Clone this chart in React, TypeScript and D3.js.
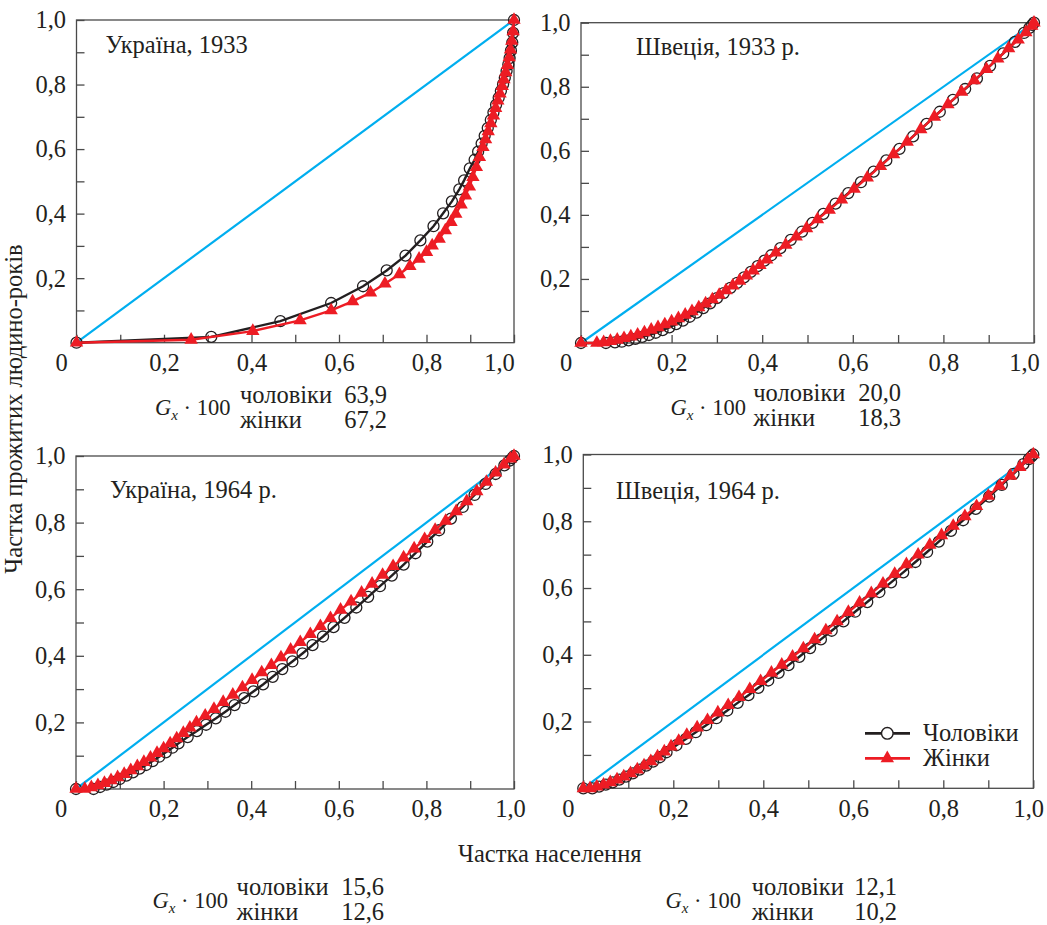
import React, { useRef, useEffect } from "react";
import * as d3 from "d3";

// Lorenz-type curves: [share of population, share of person-years lived]
const ua1933Men = [
  [0, 0], [0.308, 0.018], [0.466, 0.067], [0.582, 0.123], [0.655, 0.175], [0.709, 0.224],
  [0.752, 0.27], [0.786, 0.317], [0.816, 0.361], [0.838, 0.401], [0.858, 0.438], [0.875, 0.475],
  [0.886, 0.503], [0.899, 0.54], [0.91, 0.567], [0.918, 0.592], [0.926, 0.617], [0.933, 0.641],
  [0.94, 0.665], [0.947, 0.69], [0.953, 0.713], [0.959, 0.737], [0.965, 0.759], [0.97, 0.78],
  [0.975, 0.801], [0.979, 0.821], [0.983, 0.842], [0.987, 0.862], [0.99, 0.882], [0.993, 0.905],
  [0.996, 0.93], [0.998, 0.96], [1, 1],
];
const ua1933Women = [
  [0, 0], [0.262, 0.009], [0.403, 0.036], [0.511, 0.069], [0.582, 0.1], [0.631, 0.128],
  [0.672, 0.155], [0.705, 0.183], [0.738, 0.212], [0.762, 0.237], [0.783, 0.26], [0.8, 0.281],
  [0.813, 0.301], [0.829, 0.322], [0.843, 0.348], [0.856, 0.374], [0.867, 0.399], [0.879, 0.428],
  [0.889, 0.456], [0.898, 0.484], [0.906, 0.513], [0.914, 0.544], [0.921, 0.575], [0.929, 0.606],
  [0.935, 0.63], [0.941, 0.655], [0.947, 0.68], [0.953, 0.704], [0.958, 0.727], [0.963, 0.75],
  [0.968, 0.772], [0.973, 0.795], [0.977, 0.816], [0.981, 0.838], [0.985, 0.86], [0.989, 0.884],
  [0.992, 0.908], [0.995, 0.935], [0.998, 0.965], [1, 1],
];
const se1933Men = [
  [0, 0], [0.055, 0], [0.075, 0.002], [0.09, 0.004], [0.105, 0.008], [0.12, 0.013], [0.135, 0.019],
  [0.15, 0.025], [0.165, 0.032], [0.18, 0.04], [0.195, 0.049], [0.21, 0.059], [0.225, 0.07],
  [0.24, 0.082], [0.255, 0.095], [0.27, 0.109], [0.285, 0.124], [0.3, 0.14], [0.315, 0.156],
  [0.33, 0.172], [0.345, 0.188], [0.36, 0.205], [0.375, 0.222], [0.39, 0.24], [0.405, 0.257],
  [0.42, 0.274], [0.44, 0.296], [0.463, 0.322], [0.488, 0.348], [0.511, 0.375], [0.535, 0.403],
  [0.562, 0.435], [0.59, 0.468], [0.618, 0.502], [0.646, 0.535], [0.674, 0.57], [0.703, 0.606],
  [0.733, 0.645], [0.763, 0.684], [0.792, 0.722], [0.821, 0.759], [0.848, 0.793], [0.874, 0.826],
  [0.903, 0.865], [0.932, 0.904], [0.958, 0.94], [0.978, 0.968], [0.99, 0.984], [0.996, 0.993], [1, 1],
];
const se1933Women = [
  [0, 0], [0.035, 0], [0.05, 0.002], [0.065, 0.006], [0.08, 0.01], [0.095, 0.015], [0.11, 0.02],
  [0.125, 0.026], [0.14, 0.033], [0.155, 0.041], [0.17, 0.049], [0.185, 0.058], [0.2, 0.067],
  [0.215, 0.077], [0.23, 0.088], [0.245, 0.099], [0.26, 0.111], [0.275, 0.123], [0.29, 0.136],
  [0.305, 0.15], [0.32, 0.164], [0.335, 0.179], [0.35, 0.194], [0.365, 0.21], [0.38, 0.226],
  [0.395, 0.243], [0.41, 0.26], [0.43, 0.282], [0.452, 0.306], [0.475, 0.332], [0.498, 0.358],
  [0.522, 0.386], [0.548, 0.416], [0.575, 0.448], [0.603, 0.481], [0.632, 0.516], [0.661, 0.552],
  [0.69, 0.589], [0.72, 0.628], [0.75, 0.667], [0.78, 0.706], [0.81, 0.745], [0.84, 0.784],
  [0.868, 0.82], [0.895, 0.855], [0.92, 0.888], [0.944, 0.92], [0.965, 0.947], [0.982, 0.97],
  [0.995, 0.99], [1, 1],
];
const ua1964Men = [
  [0, 0], [0.04, 0], [0.055, 0.006], [0.07, 0.013], [0.085, 0.021], [0.1, 0.03], [0.115, 0.04],
  [0.13, 0.05], [0.145, 0.061], [0.16, 0.072], [0.175, 0.084], [0.19, 0.097], [0.205, 0.11],
  [0.22, 0.124], [0.234, 0.137], [0.255, 0.156], [0.276, 0.174], [0.297, 0.193], [0.319, 0.212],
  [0.341, 0.232], [0.362, 0.252], [0.384, 0.273], [0.405, 0.293], [0.427, 0.314], [0.449, 0.337],
  [0.471, 0.36], [0.494, 0.383], [0.517, 0.407], [0.54, 0.432], [0.564, 0.458], [0.588, 0.486],
  [0.613, 0.514], [0.64, 0.545], [0.667, 0.577], [0.694, 0.609], [0.721, 0.641], [0.748, 0.674],
  [0.775, 0.708], [0.802, 0.743], [0.829, 0.777], [0.856, 0.812], [0.883, 0.847], [0.91, 0.883],
  [0.935, 0.916], [0.958, 0.946], [0.978, 0.972], [0.99, 0.986], [0.996, 0.994], [1, 1],
];
const ua1964Women = [
  [0, 0], [0.02, 0], [0.035, 0.005], [0.05, 0.011], [0.065, 0.018], [0.08, 0.026], [0.095, 0.035],
  [0.11, 0.045], [0.125, 0.056], [0.14, 0.068], [0.155, 0.081], [0.17, 0.094], [0.185, 0.108],
  [0.2, 0.122], [0.215, 0.137], [0.23, 0.152], [0.245, 0.168], [0.26, 0.184], [0.275, 0.2],
  [0.295, 0.22], [0.315, 0.24], [0.336, 0.261], [0.358, 0.283], [0.38, 0.305], [0.402, 0.327],
  [0.424, 0.35], [0.446, 0.372], [0.468, 0.395], [0.49, 0.418], [0.512, 0.441], [0.535, 0.465],
  [0.558, 0.489], [0.581, 0.513], [0.604, 0.538], [0.628, 0.563], [0.652, 0.589], [0.676, 0.616],
  [0.7, 0.643], [0.724, 0.669], [0.748, 0.695], [0.772, 0.722], [0.796, 0.75], [0.82, 0.778],
  [0.844, 0.805], [0.868, 0.834], [0.892, 0.864], [0.915, 0.894], [0.937, 0.922], [0.958, 0.95],
  [0.977, 0.974], [0.992, 0.992], [1, 1],
];
const se1964Men = [
  [0, 0], [0.02, 0], [0.035, 0.005], [0.05, 0.011], [0.065, 0.018], [0.08, 0.026], [0.095, 0.035],
  [0.11, 0.045], [0.125, 0.056], [0.14, 0.068], [0.155, 0.08], [0.17, 0.093], [0.185, 0.108],
  [0.207, 0.129], [0.228, 0.148], [0.25, 0.168], [0.273, 0.189], [0.296, 0.21], [0.32, 0.233],
  [0.343, 0.256], [0.367, 0.279], [0.389, 0.301], [0.411, 0.323], [0.434, 0.346], [0.456, 0.369],
  [0.48, 0.394], [0.504, 0.42], [0.528, 0.446], [0.552, 0.472], [0.578, 0.5], [0.604, 0.529],
  [0.631, 0.558], [0.658, 0.588], [0.684, 0.617], [0.711, 0.647], [0.738, 0.678], [0.764, 0.708],
  [0.79, 0.739], [0.817, 0.771], [0.844, 0.803], [0.872, 0.837], [0.902, 0.874], [0.93, 0.909],
  [0.956, 0.942], [0.978, 0.971], [0.99, 0.986], [0.996, 0.994], [1, 1],
];
const se1964Women = [
  [0, 0], [0.015, 0], [0.03, 0.005], [0.045, 0.011], [0.06, 0.018], [0.075, 0.026], [0.09, 0.035],
  [0.105, 0.045], [0.12, 0.056], [0.135, 0.068], [0.15, 0.081], [0.165, 0.095], [0.18, 0.11],
  [0.195, 0.125], [0.212, 0.142], [0.23, 0.16], [0.253, 0.182], [0.276, 0.204], [0.299, 0.227],
  [0.322, 0.249], [0.346, 0.273], [0.37, 0.297], [0.394, 0.321], [0.418, 0.346], [0.441, 0.37],
  [0.465, 0.394], [0.489, 0.419], [0.514, 0.446], [0.539, 0.473], [0.564, 0.5], [0.589, 0.528],
  [0.614, 0.556], [0.64, 0.584], [0.666, 0.613], [0.692, 0.642], [0.718, 0.671], [0.744, 0.7],
  [0.77, 0.729], [0.796, 0.758], [0.822, 0.786], [0.848, 0.815], [0.874, 0.845], [0.9, 0.876],
  [0.925, 0.906], [0.949, 0.936], [0.97, 0.962], [0.988, 0.985], [1, 1],
];

const titles = ["Україна, 1933", "Швеція, 1933 р.", "Україна, 1964 р.", "Швеція, 1964 р."];
const giniMen = [63.9, 20.0, 15.6, 12.1];
const giniWomen = [67.2, 18.3, 12.6, 10.2];
const minorTicks = [0, 0.1, 0.2, 0.3, 0.4, 0.5, 0.6, 0.7, 0.8, 0.9, 1];
const majorTicks = [0.2, 0.4, 0.6, 0.8, 1];
const seriesNames = ["Чоловіки", "Жінки"];

const FONT = '"Liberation Serif", "Times New Roman", serif';
const FS = 24.5;
const INK = "#231f20";
const FRAME = "#4a4a4a";
const RED = "#ed1c24";
const BLUE = "#00aeef";

// frame boxes and text anchors of the four panels
const layout = [
  { x0: 76.5, x1: 514, y0: 342.7, y1: 20, oneDx: -15, title: [105.5, 52.5], gx: 155, gy: 415, row: 240, num: 387, r1: 403, r2: 428 },
  { x0: 581, x1: 1034, y0: 343, y1: 22.7, oneDx: -10, title: [636, 55], gx: 670.5, gy: 414.5, row: 753.3, num: 901, r1: 401, r2: 426 },
  { x0: 76, x1: 514, y0: 789, y1: 456, oneDx: -4, title: [110, 497.5], gx: 152.5, gy: 908, row: 236.6, num: 384, r1: 895, r2: 920 },
  { x0: 583.3, x1: 1033.3, y0: 788.3, y1: 454.5, oneDx: -5, title: [616, 499], gx: 665.5, gy: 908, row: 751.7, num: 897, r1: 895, r2: 919.5 },
];

const series = [
  [ua1933Men, ua1933Women],
  [se1933Men, se1933Women],
  [ua1964Men, ua1964Women],
  [se1964Men, se1964Women],
];

const comma = d3.formatLocale({ decimal: ",", thousands: " ", grouping: [3], currency: ["", ""] });
const f1 = comma.format(".1f");

const App = () => {
  const svgRef = useRef(null);

  useEffect(() => {
    const svg = d3.select(svgRef.current);
    svg.selectAll("*").remove();
    const tri = d3.symbol(d3.symbolTriangle, 78)();

    layout.forEach((p, i) => {
      const x = d3.scaleLinear().domain([0, 1]).range([p.x0, p.x1]);
      const y = d3.scaleLinear().domain([0, 1]).range([p.y0, p.y1]);
      const g = svg.append("g");

      g.append("rect")
        .attr("x", p.x0)
        .attr("y", p.y1)
        .attr("width", p.x1 - p.x0)
        .attr("height", p.y0 - p.y1)
        .attr("fill", "none")
        .attr("stroke", FRAME)
        .attr("stroke-width", 1.3);

      const yAxis = d3
        .axisLeft(y)
        .tickValues(minorTicks)
        .tickSize(-8)
        .tickPadding(10.5)
        .tickFormat((d) => (majorTicks.includes(d) ? f1(d) : ""));
      const gy = g.append("g").attr("transform", `translate(${p.x0},0)`).call(yAxis);

      const xAxis = d3
        .axisBottom(x)
        .tickValues(minorTicks)
        .tickSize(-8)
        .tickPadding(11)
        .tickFormat((d) => (d === 0 ? "0" : majorTicks.includes(d) ? f1(d) : ""));
      const gxAx = g.append("g").attr("transform", `translate(0,${p.y0})`).call(xAxis);
      gxAx.selectAll(".tick text").filter((d) => d === 0).attr("x", -15.5);
      gxAx.selectAll(".tick text").filter((d) => d === 1).attr("x", p.oneDx);

      [gy, gxAx].forEach((a) => {
        a.attr("font-family", FONT).attr("font-size", FS).attr("color", FRAME);
        a.select(".domain").remove();
        a.selectAll(".tick line").attr("stroke-width", 1.3);
        a.selectAll(".tick text").attr("fill", INK);
      });

      // equality line
      g.append("line")
        .attr("x1", x(0))
        .attr("y1", y(0))
        .attr("x2", x(1))
        .attr("y2", y(1))
        .attr("stroke", BLUE)
        .attr("stroke-width", 2.2);

      const line = d3.line().x((d) => x(d[0])).y((d) => y(d[1]));
      const [men, women] = series[i];

      g.append("path").datum(men).attr("d", line).attr("fill", "none").attr("stroke", INK).attr("stroke-width", 2.4);
      g.append("g")
        .selectAll("circle")
        .data(men)
        .join("circle")
        .attr("cx", (d) => x(d[0]))
        .attr("cy", (d) => y(d[1]))
        .attr("r", 5.5)
        .attr("fill", "none")
        .attr("stroke", INK)
        .attr("stroke-width", 1.3);

      g.append("path").datum(women).attr("d", line).attr("fill", "none").attr("stroke", RED).attr("stroke-width", 2.4);
      g.append("g")
        .selectAll("path")
        .data(women)
        .join("path")
        .attr("d", tri)
        .attr("transform", (d) => `translate(${x(d[0])},${y(d[1])})`)
        .attr("fill", RED);

      g.append("text")
        .attr("x", p.title[0])
        .attr("y", p.title[1])
        .attr("font-family", FONT)
        .attr("font-size", FS)
        .attr("fill", INK)
        .text(titles[i]);

      // Gini block
      const gt = g.append("text").attr("x", p.gx).attr("y", p.gy).attr("font-family", FONT).attr("font-size", 22.5).attr("fill", INK);
      gt.append("tspan").attr("font-style", "italic").text("G");
      gt.append("tspan").attr("font-style", "italic").attr("font-size", 15).attr("dy", 5).text("x");
      gt.append("tspan").attr("dy", -5).text(" · 100");

      [[seriesNames[0].toLowerCase(), giniMen[i], p.r1], [seriesNames[1].toLowerCase(), giniWomen[i], p.r2]].forEach(([name, v, yy]) => {
        g.append("text").attr("x", p.row).attr("y", yy).attr("font-family", FONT).attr("font-size", FS).attr("fill", INK).text(name);
        g.append("text")
          .attr("x", p.num)
          .attr("y", yy)
          .attr("text-anchor", "end")
          .attr("font-family", FONT)
          .attr("font-size", FS)
          .attr("fill", INK)
          .text(f1(v));
      });
    });

    // legend in the last panel
    const lg = svg.append("g").attr("font-family", FONT).attr("font-size", FS).attr("fill", INK);
    [733.3, 758.3].forEach((ly, k) => {
      lg.append("line").attr("x1", 865).attr("x2", 910).attr("y1", ly).attr("y2", ly).attr("stroke", k ? RED : INK).attr("stroke-width", 2.8);
      if (k === 0) {
        lg.append("circle").attr("cx", 887.3).attr("cy", ly).attr("r", 5.8).attr("fill", "#fff").attr("stroke", INK).attr("stroke-width", 1.4);
      } else {
        lg.append("path").attr("d", tri).attr("transform", `translate(887.3,${ly})`).attr("fill", RED);
      }
      lg.append("text").attr("x", 923).attr("y", ly + 8).text(seriesNames[k]);
    });

    svg.append("text")
      .attr("transform", "translate(22,409) rotate(-90)")
      .attr("text-anchor", "middle")
      .attr("font-family", FONT)
      .attr("font-size", FS)
      .attr("fill", INK)
      .text("Частка прожитих людино-років");

    svg.append("text")
      .attr("x", 458)
      .attr("y", 862)
      .attr("font-family", FONT)
      .attr("font-size", FS)
      .attr("fill", INK)
      .text("Частка населення");
  }, []);

  return (
    <svg
      ref={svgRef}
      width="1047"
      height="925"
      style={{ position: "absolute", left: 0, top: 0, background: "#fff" }}
    ></svg>
  );
};

export default App;
